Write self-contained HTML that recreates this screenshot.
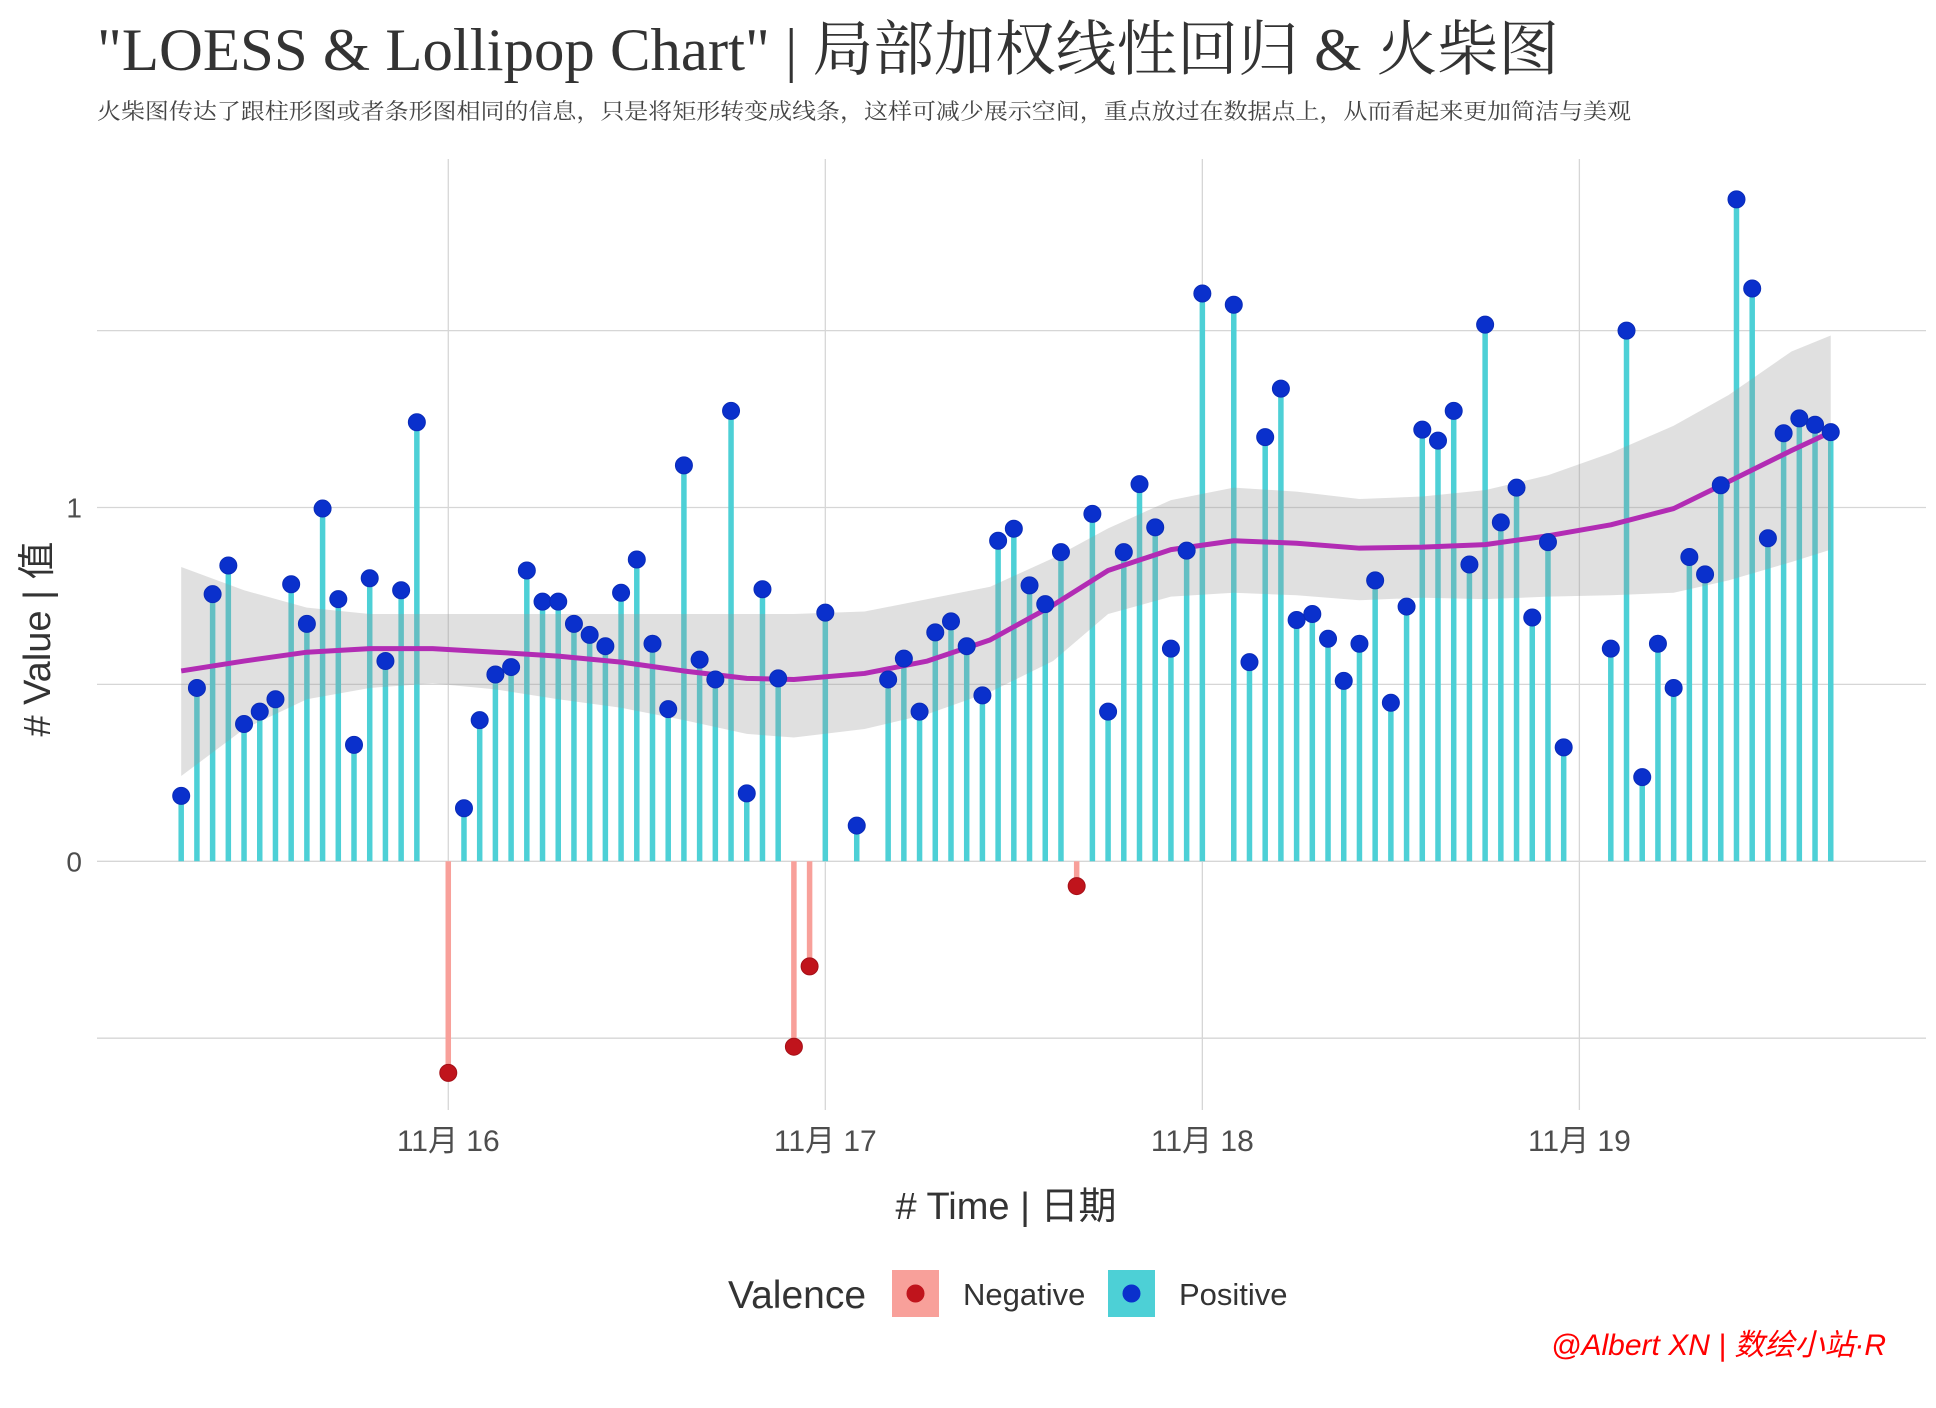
<!DOCTYPE html>
<html><head><meta charset="utf-8"><style>
html,body{margin:0;padding:0;background:#fff;}
svg{display:block;}
text{font-family:"Liberation Sans","Noto Sans CJK SC",sans-serif;}
</style></head><body>
<svg id="chart" width="1936" height="1408" viewBox="0 0 1936 1408" xmlns="http://www.w3.org/2000/svg">
<rect width="1936" height="1408" fill="#fff"/>
<text x="97" y="70" font-size="60" fill="#333" textLength="1462" lengthAdjust="spacingAndGlyphs" style="font-family:'Liberation Serif','Noto Serif CJK SC',serif">"LOESS &amp; Lollipop Chart" | 局部加权线性回归 &amp; 火柴图</text>
<text x="97" y="119" font-size="22" fill="#444" textLength="1534" lengthAdjust="spacingAndGlyphs" style="font-family:'Liberation Serif','Noto Serif CJK SC',serif">火柴图传达了跟柱形图或者条形图相同的信息，只是将矩形转变成线条，这样可减少展示空间，重点放过在数据点上，从而看起来更加简洁与美观</text>
<g id="grid"></g>
<g id="stems"></g>
<g id="smooth"></g>
<g id="points"></g>
<g id="axes"></g>
<text transform="translate(50,639) rotate(-90)" text-anchor="middle" font-size="38" fill="#333">#  Value | 值</text>
<text x="1006" y="1219" text-anchor="middle" font-size="38" fill="#333"># Time | 日期</text>
<g>
<text x="728" y="1308" font-size="39" fill="#333">Valence</text>
<g>
<rect x="892" y="1270" width="47" height="47" fill="#F8A09A"/>
<circle cx="915.5" cy="1293.5" r="9" fill="#C0141C"/>
<text x="963" y="1305" font-size="31" fill="#333">Negative</text>
</g>
<g>
<rect x="1108" y="1270" width="47" height="47" fill="#4DD0D6"/>
<circle cx="1131.5" cy="1293.5" r="9" fill="#0A30CC"/>
<text x="1179" y="1305" font-size="31" fill="#333">Positive</text>
</g>
</g>
<text x="1886" y="1355" text-anchor="end" font-size="30" fill="#ff0000" font-style="italic">@Albert XN | 数绘小站·R</text>
</svg>
<script>
// data (hour offset from 11/15 07:00, value)
const hours = [0,1,2,3,4,5,6,7,8,9,10,11,12,13,14,15,17,18,19,20,21,22,23,24,25,26,27,28,29,30,31,32,33,34,35,36,37,38,39,40,41,43,45,46,47,48,49,50,51,52,53,54,55,56,57,58,59,60,61,62,63,64,65,67,68,69,70,71,72,73,74,75,76,77,78,79,80,81,82,83,84,85,86,87,88,91,92,93,94,95,96,97,98,99,100,101,102,103,104,105];
const values = [0.185,0.49,0.755,0.836,0.388,0.423,0.458,0.783,0.671,0.997,0.741,0.329,0.80,0.566,0.766,1.241,-0.598,0.15,0.399,0.528,0.549,0.822,0.734,0.734,0.671,0.64,0.608,0.759,0.853,0.615,0.43,1.119,0.57,0.514,1.273,0.192,0.769,0.517,-0.524,-0.297,0.703,0.101,0.514,0.573,0.423,0.647,0.678,0.608,0.469,0.906,0.94,0.78,0.727,0.874,-0.07,0.982,0.423,0.874,1.066,0.944,0.601,0.878,1.605,1.573,0.563,1.199,1.336,0.682,0.699,0.629,0.51,0.615,0.794,0.448,0.72,1.22,1.189,1.273,0.839,1.517,0.958,1.056,0.689,0.902,0.322,0.601,1.5,0.238,0.615,0.49,0.86,0.811,1.063,1.871,1.619,0.913,1.21,1.252,1.234,1.213];
const smoothHours = [0,4,8,12,16,20,24,28,32,36,39,43.5,47.5,51.5,55.5,59,63,67,71,75,79,83,87,91,95,98.5,102.5,105];
const smoothFit = [0.538,0.566,0.591,0.601,0.601,0.591,0.58,0.563,0.538,0.517,0.514,0.531,0.566,0.626,0.724,0.822,0.881,0.906,0.899,0.885,0.888,0.895,0.92,0.951,0.997,1.073,1.161,1.213];
const smoothUpper = [0.832,0.766,0.717,0.699,0.699,0.699,0.699,0.699,0.699,0.699,0.699,0.706,0.741,0.776,0.857,0.941,1.021,1.056,1.045,1.024,1.031,1.049,1.091,1.154,1.231,1.318,1.441,1.486];
const smoothLower = [0.241,0.374,0.458,0.49,0.503,0.486,0.458,0.434,0.399,0.36,0.35,0.374,0.416,0.479,0.566,0.699,0.748,0.759,0.752,0.738,0.745,0.741,0.748,0.752,0.759,0.794,0.846,0.881];
const xTickHours = [17,41,65,89];
const xTickLabels = ["11月 16","11月 17","11月 18","11月 19"];
const yTicks = [-0.5,0,0.5,1,1.5];
const yTickLabels = ["","0","","1",""];

const NS="http://www.w3.org/2000/svg";
const X = h => 181.2 + 15.71*h;
const Y = v => 861.3 - 353.8*v;
const PL=97, PR=1926, PT=159, PB=1110;
function mk(tag, attrs, parent){const e=document.createElementNS(NS,tag);for(const k in attrs)e.setAttribute(k,attrs[k]);parent.appendChild(e);return e;}
const grid=document.getElementById('grid'), stems=document.getElementById('stems'), sm=document.getElementById('smooth'), pts=document.getElementById('points'), axes=document.getElementById('axes');

yTicks.forEach((t,i)=>{
  const l=mk('line',{x1:PL,x2:PR,y1:Y(t),y2:Y(t),stroke:'#d6d6d6','stroke-width':1.3},grid);
  
  
  if(yTickLabels[i]){
    const tx=mk('text',{x:82,y:Y(t)+10,'text-anchor':'end','font-size':28,fill:'#4d4d4d'},axes);
    tx.textContent=yTickLabels[i];
    
    
  }
});
xTickHours.forEach((h,i)=>{
  const l=mk('line',{x1:X(h),x2:X(h),y1:PT,y2:PB,stroke:'#d6d6d6','stroke-width':1.3},grid);
  
  
  const tx=mk('text',{x:X(h),y:1151,'text-anchor':'middle','font-size':30,fill:'#4d4d4d'},axes);
  tx.textContent=xTickLabels[i];
  
  
});

hours.forEach((h,i)=>{
  const v=values[i], neg=v<0;
  const s=mk('line',{x1:X(h),x2:X(h),y1:Y(0),y2:Y(v),stroke:neg?'#F8A09A':'#4DD0D6','stroke-width':5.5},stems);
  
  
});

let band='M'+smoothHours.map((h,i)=>X(h)+','+Y(smoothUpper[i])).join(' L');
for(let i=smoothHours.length-1;i>=0;i--) band+=' L'+X(smoothHours[i])+','+Y(smoothLower[i]);
band+=' Z';
const b=mk('path',{d:band,fill:'#999',opacity:0.3},sm);


const ln=mk('path',{d:'M'+smoothHours.map((h,i)=>X(h)+','+Y(smoothFit[i])).join(' L'),fill:'none',stroke:'#B22CB4','stroke-width':5,'stroke-linejoin':'round'},sm);



hours.forEach((h,i)=>{
  const v=values[i], neg=v<0;
  const c=mk('circle',{cx:X(h),cy:Y(v),r:8.5,fill:neg?'#C0141C':'#0A30CC',stroke:neg?'#a51018':'#0a2cb8','stroke-width':1},pts);
  
  
});
</script>
</body></html>
